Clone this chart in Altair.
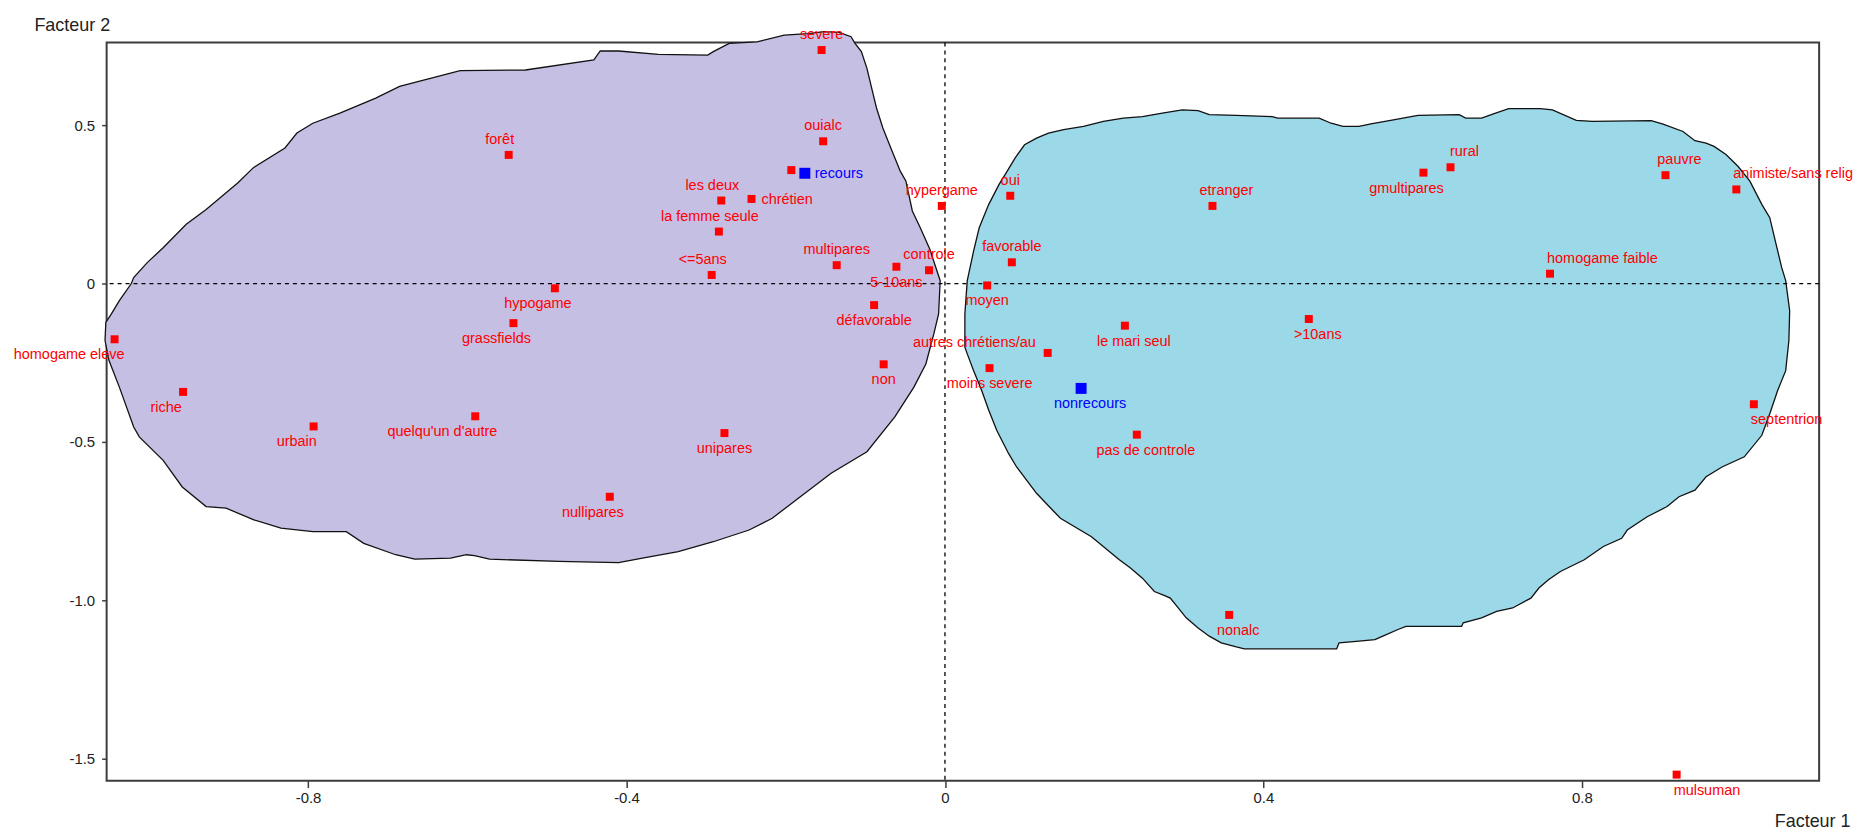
import altair as alt
import pandas as pd

# ---------------- data ----------------
labels = ["forêt", "severe", "ouialc", "", "recours", "les deux", "chrétien",
          "la femme seule", "hypergame", "oui", "etranger", "multipares", "5-10ans",
          "controle", "favorable", "<=5ans", "rural", "gmultipares", "pauvre",
          "animiste/sans relig", "homogame faible", "hypogame", "grassfields",
          "homogame eleve", "riche", "urbain", "quelqu'un d'autre", "nullipares",
          "unipares", "défavorable", "non", "moyen", "autres chrétiens/au",
          "le mari seul", "moins severe", "nonrecours", "pas de controle", ">10ans",
          "septentrion", "nonalc", "mulsuman"]
f1 = [-0.548, -0.155, -0.153, -0.193, -0.176, -0.281, -0.243,
      -0.284, -0.004, 0.082, 0.336, -0.136, -0.061,
      -0.020, 0.084, -0.293, 0.635, 0.601, 0.905,
      0.994, 0.760, -0.490, -0.542,
      -1.043, -0.957, -0.793, -0.590, -0.421,
      -0.277, -0.089, -0.077, 0.053, 0.129,
      0.226, 0.056, 0.171, 0.241, 0.457,
      1.016, 0.357, 0.919]
f2 = [0.406, 0.737, 0.449, 0.358, 0.348, 0.262, 0.267,
      0.164, 0.245, 0.277, 0.245, 0.058, 0.053,
      0.042, 0.067, 0.027, 0.367, 0.350, 0.342,
      0.297, 0.031, -0.015, -0.125,
      -0.176, -0.342, -0.451, -0.419, -0.673,
      -0.472, -0.068, -0.255, -0.006, -0.219,
      -0.133, -0.267, -0.331, -0.477, -0.112,
      -0.381, -1.046, -1.550]
kind = ["modalité"] * 41
kind[4] = "recours"
kind[35] = "recours"
place = ["nl", "n", "n", "n", "e", "nl", "e",
         "nl", "n", "n", "nr", "n", "s",
         "n", "n", "nl", "nr", "sl", "nr",
         "ne", "ne", "sl", "sl",
         "sw", "sl", "sl", "sll", "sl",
         "s", "s", "s", "s", "w",
         "sr", "s", "sr", "sr", "sr",
         "se", "sr", "se"]

left_f1 = [-0.410, -0.433, -0.441, -0.527, -0.609, -0.685, -0.715, -0.760, -0.794, -0.814,
           -0.829, -0.869, -0.888, -0.928, -0.953, -0.982, -1.002, -1.019,
           -1.022, -1.037, -1.047, -1.054, -1.055, -1.050, -1.037, -1.019, -1.012, -0.982,
           -0.958, -0.928, -0.903, -0.868, -0.834, -0.794, -0.752, -0.730, -0.690, -0.666,
           -0.621, -0.601, -0.591, -0.572,
           -0.485, -0.410,
           -0.380, -0.335, -0.291, -0.246, -0.217, -0.187, -0.143, -0.098, -0.063, -0.039,
           -0.024, -0.014, -0.008, -0.006,
           -0.019, -0.031, -0.041, -0.049, -0.056, -0.068, -0.078, -0.086, -0.091, -0.098,
           -0.105, -0.113, -0.118, -0.133, -0.152, -0.172, -0.202, -0.236, -0.271, -0.291,
           -0.298, -0.360]
left_f2 = [0.734, 0.734, 0.706, 0.674, 0.672, 0.622, 0.585, 0.538, 0.506, 0.475,
           0.428, 0.365, 0.318, 0.234, 0.187, 0.113, 0.066, 0.019,
           0.000, -0.054, -0.096, -0.123, -0.180, -0.243, -0.327, -0.453, -0.484, -0.558,
           -0.642, -0.704, -0.709, -0.746, -0.772, -0.783, -0.783, -0.820, -0.856, -0.870,
           -0.867, -0.856, -0.859, -0.870,
           -0.877, -0.881,
           -0.867, -0.846, -0.815, -0.778, -0.741, -0.683, -0.599, -0.531, -0.421, -0.327,
           -0.254, -0.159, -0.096, 0.009,
           0.108, 0.176, 0.229, 0.323, 0.354, 0.428, 0.491, 0.554, 0.606, 0.679,
           0.732, 0.758, 0.779, 0.793, 0.795, 0.789, 0.784, 0.763, 0.758, 0.732,
           0.721, 0.723]

right_f1 = [0.028, 0.036, 0.043, 0.055, 0.068, 0.078, 0.088, 0.100, 0.115, 0.130,
            0.149, 0.174, 0.199, 0.224, 0.248, 0.273, 0.298, 0.318, 0.332, 0.366,
            0.411, 0.418, 0.470, 0.485, 0.500, 0.520, 0.535, 0.565, 0.594, 0.646,
            0.654, 0.674, 0.688, 0.708, 0.748, 0.763, 0.793, 0.813, 0.887, 0.902,
            0.927, 0.942, 0.956, 0.966, 0.981, 0.996, 1.011, 1.026, 1.036, 1.043,
            1.051, 1.056, 1.061, 1.060, 1.056, 1.046, 1.036, 1.026, 1.004, 0.976,
            0.956, 0.942, 0.922, 0.907, 0.882, 0.857, 0.850, 0.827, 0.803, 0.773,
            0.758, 0.746, 0.736, 0.713, 0.693, 0.674, 0.651, 0.649, 0.579, 0.569,
            0.550, 0.540, 0.520, 0.495, 0.492, 0.488, 0.376, 0.366, 0.347, 0.332,
            0.318, 0.303, 0.293, 0.283, 0.276, 0.263, 0.248, 0.233, 0.219, 0.184,
            0.145, 0.135, 0.115, 0.090, 0.080, 0.065, 0.055, 0.046, 0.036, 0.028,
            0.025, 0.025]
right_f2 = [0.009, 0.103, 0.176, 0.250, 0.313, 0.354, 0.396, 0.438, 0.459, 0.475,
            0.486, 0.496, 0.512, 0.522, 0.527, 0.538, 0.548, 0.546, 0.533, 0.531,
            0.527, 0.522, 0.522, 0.506, 0.496, 0.496, 0.504, 0.517, 0.531, 0.533,
            0.522, 0.522, 0.535, 0.552, 0.552, 0.548, 0.515, 0.512, 0.514, 0.503,
            0.480, 0.451, 0.443, 0.433, 0.407, 0.370, 0.323, 0.250, 0.208, 0.134,
            0.050, 0.009, -0.086, -0.180, -0.275, -0.337, -0.411, -0.479, -0.547, -0.579,
            -0.610, -0.652, -0.673, -0.704, -0.736, -0.778, -0.804, -0.830, -0.872, -0.909,
            -0.935, -0.961, -0.993, -1.024, -1.035, -1.055, -1.071, -1.082, -1.082, -1.092,
            -1.113, -1.124, -1.129, -1.134, -1.153, -1.153, -1.153, -1.147, -1.134, -1.113,
            -1.087, -1.055, -1.024, -0.993, -0.985, -0.972, -0.930, -0.898, -0.872, -0.799,
            -0.741, -0.715, -0.662, -0.579, -0.537, -0.463, -0.400, -0.337, -0.275, -0.222,
            -0.201, -0.096]

x_ticks = [-0.8, -0.4, 0, 0.4, 0.8]
y_ticks = [0.5, 0, -0.5, -1.0, -1.5]
x_domain = [-1.053, 1.098]
y_domain = [-1.569, 0.761]

# ---------------- chart ----------------
FONT = "Liberation Sans"
W, H = 1719, 741
FRAME = "#3c3c3c"

pts = pd.DataFrame({"label": labels, "f1": f1, "f2": f2, "kind": kind, "place": place})
left = pd.DataFrame({"f1": left_f1, "f2": left_f2, "i": range(len(left_f1))})
right = pd.DataFrame({"f1": right_f1, "f2": right_f2, "i": range(len(right_f1))})

lbl_expr = "datum.value == 0 ? '0' : (datum.value < 0 ? '-' : '') + format(abs(datum.value), '.1f')"

xaxis = alt.Axis(values=x_ticks, labelExpr=lbl_expr, grid=False, domain=False,
                 tickSize=7, tickWidth=1.5, tickColor=FRAME,
                 labelFont=FONT, labelFontSize=15, labelColor="#222222", labelPadding=3,
                 title="Facteur 1", titleFont=FONT, titleFontSize=18, titleFontWeight="normal",
                 titleColor="#222222", titleX=1750, titleY=46, titleAlign="right",
                 titleBaseline="alphabetic", titleAngle=0)
yaxis = alt.Axis(values=y_ticks, labelExpr=lbl_expr, grid=False, domain=False,
                 tickSize=5, tickWidth=1.5, tickColor=FRAME,
                 labelFont=FONT, labelFontSize=15, labelColor="#222222", labelPadding=7,
                 title="Facteur 2", titleFont=FONT, titleFontSize=18, titleFontWeight="normal",
                 titleColor="#222222", titleX=-73, titleY=-12, titleAlign="left",
                 titleBaseline="alphabetic", titleAngle=0)

xs = alt.Scale(domain=x_domain, nice=False, zero=False)
ys = alt.Scale(domain=y_domain, nice=False, zero=False)
X = alt.X("f1:Q", scale=xs, axis=xaxis)
Y = alt.Y("f2:Q", scale=ys, axis=yaxis)

blob_left = alt.Chart(left).mark_line(
    interpolate="linear-closed", fill="#c6bfe4", stroke="#111111", strokeWidth=1.3
).encode(x=X, y=Y, order="i:Q")
blob_right = alt.Chart(right).mark_line(
    interpolate="linear-closed", fill="#9bd8e8", stroke="#111111", strokeWidth=1.3
).encode(x=X, y=Y, order="i:Q")

vrule = alt.Chart(pd.DataFrame({"f1": [0]})).mark_rule(
    color="black", strokeDash=[4, 4], strokeWidth=1.3).encode(x=X)
hrule = alt.Chart(pd.DataFrame({"f2": [0]})).mark_rule(
    color="black", strokeDash=[4, 4], strokeWidth=1.3).encode(y=Y)

color = alt.Color("kind:N", scale=alt.Scale(domain=["modalité", "recours"],
                                            range=["#ff0000", "#0000ff"]), legend=None)
points = alt.Chart(pts).mark_point(shape="square", filled=True, opacity=1).encode(
    x=X, y=Y, color=color,
    size=alt.Size("kind:N", scale=alt.Scale(domain=["modalité", "recours"], range=[64, 121]),
                  legend=None))

PLACE = {
    "n": ("center", 0, -15), "nl": ("center", -9, -15), "nr": ("center", 14, -15),
    "s": ("center", 0, 16), "sl": ("center", -17, 16), "sll": ("center", -33, 16),
    "sr": ("center", 9, 16), "e": ("left", 10, 1), "ne": ("left", -3, -15),
    "se": ("left", -3, 16), "sw": ("right", 10, 16), "w": ("right", -12, -10),
}
texts = []
for key, (al, dx, dy) in PLACE.items():
    texts.append(
        alt.Chart(pts).transform_filter(alt.datum.place == key).mark_text(
            align=al, baseline="middle", dx=dx, dy=dy, font=FONT, fontSize=14.5
        ).encode(x=X, y=Y, text="label:N", color=color)
    )

chart = alt.layer(blob_left, blob_right, vrule, hrule, points, *texts).properties(
    width=W, height=H,
    background="white",
    autosize=alt.AutoSizeParams(type="none"),
    padding={"left": 99, "top": 33, "right": 35, "bottom": 50},
).configure_view(stroke=FRAME, strokeWidth=2)

chart.save("out.html", embed_options={"renderer": "svg", "actions": False})
